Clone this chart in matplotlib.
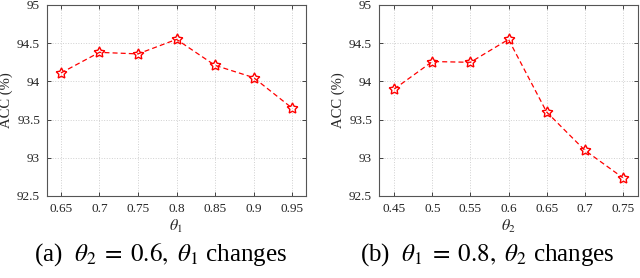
import matplotlib.pyplot as plt

plt.rcParams['font.family'] = ['Liberation Serif', 'DejaVu Serif']
plt.rcParams['mathtext.fontset'] = 'stix'

# panel (a): theta_2 = 0.6, theta_1 varies
theta1 = [0.65, 0.7, 0.75, 0.8, 0.85, 0.9, 0.95]
acc_a = [94.11, 94.38, 94.36, 94.55, 94.21, 94.05, 93.65]
# panel (b): theta_1 = 0.8, theta_2 varies
theta2 = [0.45, 0.5, 0.55, 0.6, 0.65, 0.7, 0.75]
acc_b = [93.9, 94.26, 94.25, 94.55, 93.6, 93.1, 92.74]

yticks = [92.5, 93, 93.5, 94, 94.5, 95]
ytick_labels = ['92.5', '93', '93.5', '94', '94.5', '95']

fig = plt.figure(figsize=(6.4, 2.78), dpi=100)
W, H = 640, 278


def panel(rect, x, y, xlabel, caption, xlim, xticks, xtick_labels, shift):
    l, t, r, b = rect
    ax = fig.add_axes([l / W, 1 - b / H, (r - l) / W, (b - t) / H])
    ax.plot(x, y, '--', color='#ff0000', lw=0.9, dashes=(4, 2.5),
            marker=(5, 1), markersize=8, markerfacecolor='none',
            markeredgecolor='#ff0000', markeredgewidth=1.0)
    ax.set_xlim(*xlim)
    ax.set_ylim(92.5, 95)
    ax.set_xticks(xticks)
    ax.set_xticklabels(xtick_labels)
    ax.set_yticks(yticks)
    ax.set_yticklabels(ytick_labels)
    ax.grid(True, color='#d0d0d0', linestyle=':', lw=0.7)
    ax.tick_params(direction='in', top=True, right=True, length=3,
                   labelsize=9.5, colors='#262626', width=0.6, pad=5)
    for s in ax.spines.values():
        s.set_color('#555555')
        s.set_linewidth(0.8)
    ax.set_ylabel('ACC (%)', fontsize=10.5, color='#262626', labelpad=3)
    ax.set_xlabel(xlabel, fontsize=11.5, color='#262626', labelpad=2)
    cx = (l + r) / 2 / W
    fig.text(cx - shift / W, 1 - 255 / H, caption, ha='center', va='center', fontsize=18)
    return ax


panel((47, 5, 306, 196), theta1, acc_a, r'$\theta_1$',
      r'(a)  $\theta_2\;=\;0.6,\ \theta_1$ changes', (0.632, 0.968),
      theta1, ['0.65', '0.7', '0.75', '0.8', '0.85', '0.9', '0.95'], 16)
panel((379, 5, 638, 196), theta2, acc_b, r'$\theta_2$',
      r'(b)  $\theta_1\;=\;0.8,\ \theta_2$ changes', (0.43, 0.77),
      theta2, ['0.45', '0.5', '0.55', '0.6', '0.65', '0.7', '0.75'], 21)

fig.savefig('out.png', dpi=100)
